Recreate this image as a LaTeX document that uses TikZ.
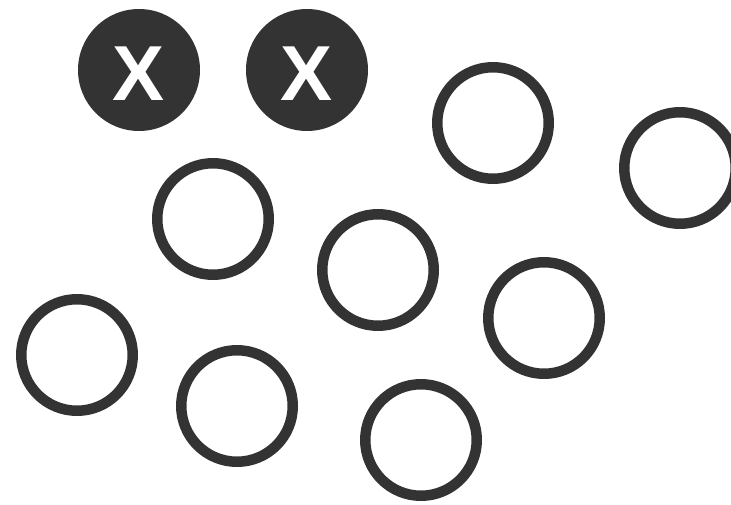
\documentclass[tikz,border=0pt]{standalone}
\usepackage{fontspec}
\setsansfont{Liberation Sans}
\usepackage{tikz}
\definecolor{ringgray}{RGB}{51,51,51}

\begin{document}
\begin{tikzpicture}[
      x=1pt, y=-1pt,
      slot/.style={circle, draw=ringgray, line width=10.5pt,
                   minimum size=111.5pt, inner sep=0pt},
      taken/.style={circle, fill=ringgray, minimum size=122pt,
                    inner sep=0pt, text=white, text height=62pt,
                    text depth=0pt,
                    font=\sffamily\bfseries\fontsize{78}{78}\selectfont},
    ]
    \useasboundingbox (0,0) rectangle (731,505);

    % Filled slots
    \node[taken] (x1) at (139,70) {X};
    \node[taken] (x2) at (307,70) {X};

    % Open slots
    \node[slot] (s1) at (493,123) {};
    \node[slot] (s2) at (680,168) {};
    \node[slot] (s3) at (213,219) {};
    \node[slot] (s4) at (378,270) {};
    \node[slot] (s5) at (544,318) {};
    \node[slot] (s6) at (77,355)  {};
    \node[slot] (s7) at (237,406) {};
    \node[slot] (s8) at (421,440) {};
  \end{tikzpicture}
\end{document}
